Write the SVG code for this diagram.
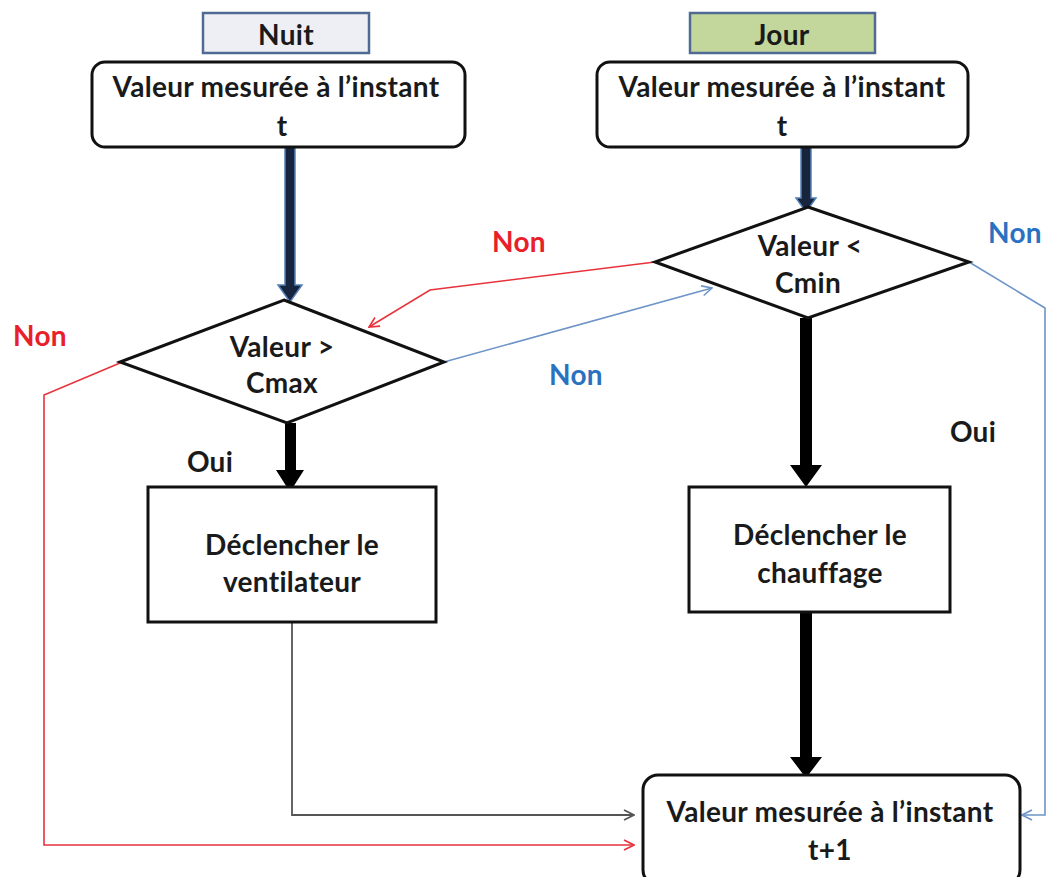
<svg xmlns="http://www.w3.org/2000/svg" width="1052" height="877" viewBox="0 0 1052 877">
<defs>
<style>
.t{font-family:Lato,"Open Sans","Liberation Sans",sans-serif;font-weight:bold;font-size:28px;letter-spacing:0.3px;fill:#1a1a1a;text-anchor:middle}
.lbl{font-family:Lato,"Open Sans","Liberation Sans",sans-serif;font-weight:bold;font-size:28px;letter-spacing:0.3px;text-anchor:middle}
.box{fill:#fff;stroke:#111;stroke-width:3}
.red{fill:none;stroke:#e8333c;stroke-width:1.6}
.blue{fill:none;stroke:#6d94c8;stroke-width:1.6}
.gray{fill:none;stroke:#555;stroke-width:1.8}
.navy{fill:#17243d;stroke:#5680b8;stroke-width:1.5}
.blk{fill:#000}
</style>
<marker id="mr" viewBox="0 0 12 12" refX="11" refY="6" markerWidth="12" markerHeight="12" markerUnits="userSpaceOnUse" orient="auto"><path d="M1,1 L11,6 L1,11" fill="none" stroke="#e8333c" stroke-width="1.6"/></marker>
<marker id="mb" viewBox="0 0 12 12" refX="11" refY="6" markerWidth="12" markerHeight="12" markerUnits="userSpaceOnUse" orient="auto"><path d="M1,1 L11,6 L1,11" fill="none" stroke="#6d94c8" stroke-width="1.6"/></marker>
<marker id="mg" viewBox="0 0 12 12" refX="11" refY="6" markerWidth="12" markerHeight="12" markerUnits="userSpaceOnUse" orient="auto"><path d="M1,1 L11,6 L1,11" fill="none" stroke="#555" stroke-width="1.8"/></marker>
</defs>
<rect width="1052" height="877" fill="#fff"/>

<g id="connectors">
<path class="navy" d="M285,147 V285 H278 L290,302 L302,285 H295 V147 Z"/>
<path class="navy" d="M801,147 V198 H796 L806,212 L816,198 H811 V147 Z"/>
<path class="blk" d="M285,423 V470 H276 L290,492 L304,470 H296 V423 Z"/>
<path class="blk" d="M800,318 V465 H790 L806,487 L822,465 H812 V318 Z"/>
<path class="blk" d="M800,612 V757 H790 L806,778 L822,757 H812 V612 Z"/>
<path class="gray" d="M292,622 V815 H634" marker-end="url(#mg)"/>
<path class="red" d="M120,363 L44,395 V845 H634" marker-end="url(#mr)"/>
<path class="red" d="M655,262 L430,290 L369,327" marker-end="url(#mr)"/>
<path class="blue" d="M444,362 L712,288" marker-end="url(#mb)"/>
<path class="blue" d="M969,262 L1045,308 V815 H1022" marker-end="url(#mb)"/>
</g>

<g id="labels">
<text class="lbl" x="519" y="252" fill="#e8202a">Non</text>
<text class="lbl" x="40" y="346" fill="#e8202a">Non</text>
<text class="lbl" x="576" y="385" fill="#2a72c0">Non</text>
<text class="lbl" x="1015" y="243" fill="#2a72c0">Non</text>
<text class="t" x="210" y="472">Oui</text>
<text class="t" x="973" y="442">Oui</text>
</g>

<g id="nuit">
<rect x="203" y="13" width="166" height="40" fill="#eeeff4" stroke="#4f6b94" stroke-width="2.5"/>
<text class="t" x="286" y="45">Nuit</text>
</g>
<g id="jour">
<rect x="690" y="13" width="185" height="40" fill="#c3d69b" stroke="#4f6b94" stroke-width="2.5"/>
<text class="t" x="782" y="45">Jour</text>
</g>

<g id="mesure-t-nuit">
<rect class="box" x="92" y="62" width="373" height="85" rx="13"/>
<text class="t" x="276" y="97">Valeur mesurée à l’instant</text>
<text class="t" x="282" y="136">t</text>
</g>
<g id="mesure-t-jour">
<rect class="box" x="597" y="62" width="371" height="85" rx="13"/>
<text class="t" x="782" y="97">Valeur mesurée à l’instant</text>
<text class="t" x="782" y="136">t</text>
</g>

<g id="test-cmax">
<polygon class="box" points="284,300 444,362 287,423 120,362"/>
<text class="t" x="282" y="357">Valeur &gt;</text>
<text class="t" x="282" y="393">Cmax</text>
</g>
<g id="test-cmin">
<polygon class="box" points="808,207 969,262 808,318 655,262"/>
<text class="t" x="810" y="256">Valeur &lt;</text>
<text class="t" x="808" y="293">Cmin</text>
</g>

<g id="ventilateur">
<rect class="box" x="148" y="487" width="288" height="135"/>
<text class="t" x="292" y="555">Déclencher le</text>
<text class="t" x="292" y="592">ventilateur</text>
</g>
<g id="chauffage">
<rect class="box" x="689" y="487" width="261" height="125"/>
<text class="t" x="820" y="545">Déclencher le</text>
<text class="t" x="820" y="583">chauffage</text>
</g>

<g id="mesure-t1">
<rect class="box" x="643" y="775" width="377" height="110" rx="15"/>
<text class="t" x="830" y="822">Valeur mesurée à l’instant</text>
<text class="t" x="830" y="860">t+1</text>
</g>
</svg>
